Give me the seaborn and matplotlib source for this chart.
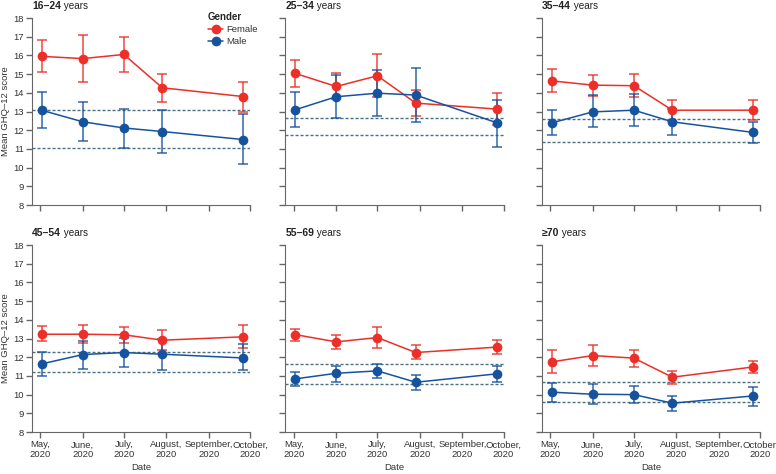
import numpy as np
import pandas as pd
import seaborn as sns
import matplotlib.pyplot as plt

# Data
ages = ['16–24', '25–34', '35–44', '45–54', '55–69', '≥70']
wave_dates = pd.to_datetime(['2020-05-02', '2020-06-01', '2020-07-01', '2020-07-29', '2020-09-26'])
tick_dates = pd.date_range('2020-05-01', '2020-10-01', freq='MS')
tick_labels = ['May,\n2020', 'June,\n2020', 'July,\n2020', 'August,\n2020', 'September,\n2020', 'October,\n2020']

female_mean = [[15.95, 15.83, 16.05, 14.27, 13.80],
               [15.04, 14.34, 14.91, 13.45, 13.13],
               [14.64, 14.41, 14.38, 13.07, 13.07],
               [13.23, 13.23, 13.20, 12.91, 13.09],
               [13.21, 12.82, 13.05, 12.25, 12.54],
               [11.75, 12.09, 11.95, 10.93, 11.48]]
female_lo = [[15.10, 14.60, 15.12, 13.50, 13.00],
             [14.30, 13.66, 13.77, 12.77, 12.30],
             [14.05, 13.82, 13.77, 12.48, 12.52],
             [12.84, 12.77, 12.77, 12.41, 12.48],
             [12.88, 12.43, 12.48, 11.88, 12.18],
             [11.13, 11.52, 11.50, 10.55, 11.13]]
female_hi = [[16.83, 17.10, 17.00, 15.03, 14.60],
             [15.77, 15.05, 16.09, 14.13, 13.99],
             [15.27, 14.93, 15.00, 13.64, 13.63],
             [13.66, 13.73, 13.63, 13.43, 13.73],
             [13.52, 13.20, 13.63, 12.63, 12.91],
             [12.36, 12.64, 12.38, 11.27, 11.82]]

male_mean = [[13.07, 12.45, 12.12, 11.93, 11.50],
             [13.09, 13.79, 13.98, 13.88, 12.40],
             [12.39, 12.98, 13.07, 12.45, 11.88],
             [11.64, 12.14, 12.25, 12.16, 11.96],
             [10.84, 11.14, 11.27, 10.66, 11.11],
             [10.13, 10.02, 10.00, 9.54, 9.93]]
male_lo = [[12.10, 11.40, 11.07, 10.78, 10.20],
           [12.18, 12.64, 12.75, 12.46, 11.12],
           [11.75, 12.16, 12.21, 11.77, 11.29],
           [11.00, 11.38, 11.50, 11.30, 11.30],
           [10.46, 10.70, 10.89, 10.23, 10.66],
           [9.63, 9.50, 9.54, 9.13, 9.39]]
male_hi = [[14.03, 13.50, 13.15, 13.08, 12.85],
           [14.02, 14.93, 15.21, 15.32, 13.62],
           [13.07, 13.89, 13.91, 13.16, 12.45],
           [12.27, 12.89, 13.05, 13.00, 12.68],
           [11.21, 11.55, 11.64, 11.07, 11.55],
           [10.61, 10.57, 10.46, 9.93, 10.43]]

# dashed reference lines per age group
ref_upper = [13.08, 12.64, 12.61, 12.29, 11.62, 10.66]
ref_lower = [11.03, 11.75, 11.36, 11.21, 10.55, 9.59]

# long table for seaborn
rows = []
for i, age in enumerate(ages):
    for g, m, lo, hi in [('Female', female_mean, female_lo, female_hi),
                         ('Male', male_mean, male_lo, male_hi)]:
        for j, d in enumerate(wave_dates):
            rows.append({'age': age, 'gender': g, 'date': d,
                         'mean': m[i][j], 'lo': lo[i][j], 'hi': hi[i][j]})
df = pd.DataFrame(rows)

sns.set_style('ticks')
plt.rcParams['font.family'] = ['Liberation Sans Narrow', 'Liberation Sans', 'DejaVu Sans']
plt.rcParams['axes.edgecolor'] = '#666666'
plt.rcParams['xtick.color'] = '#666666'
plt.rcParams['ytick.color'] = '#666666'
plt.rcParams['xtick.labelcolor'] = '#333333'
plt.rcParams['ytick.labelcolor'] = '#333333'

palette = {'Female': '#ec2f29', 'Male': '#16539f'}
fs = 6.8

fig = plt.figure(figsize=(7.76, 4.74), dpi=100)
lefts = [0.0412, 0.3679, 0.6985]
bottoms = [0.5675, 0.0886]
w, h = 0.281, 0.3945

for i, age in enumerate(ages):
    r, c = divmod(i, 3)
    ax = fig.add_axes([lefts[c], bottoms[r], w, h])
    sub = df[df['age'] == age]

    ax.axhline(ref_upper[i], color='#4f6f7d', lw=1, ls=(0, (2.2, 1.4)), zorder=1)
    ax.axhline(ref_lower[i], color='#4f6f7d', lw=1, ls=(0, (2.2, 1.4)), zorder=1)

    for g in ['Female', 'Male']:
        s = sub[sub['gender'] == g]
        ax.errorbar(s['date'], s['mean'], yerr=[s['mean'] - s['lo'], s['hi'] - s['mean']],
                    fmt='none', ecolor=palette[g], alpha=0.75, elinewidth=1.3,
                    capsize=3.5, capthick=1.3, zorder=2)

    sns.lineplot(data=sub, x='date', y='mean', hue='gender', hue_order=['Female', 'Male'],
                 palette=palette, marker='o', markersize=7, markeredgewidth=0,
                 lw=1.1, errorbar=None, legend=(i == 0), ax=ax, zorder=3)

    ax.set_ylim(8, 18)
    ax.set_yticks(range(8, 19))
    ax.set_xlim(pd.Timestamp('2020-04-25'), pd.Timestamp('2020-10-01'))
    ax.set_xticks(tick_dates)
    ax.tick_params(length=4, width=1, labelsize=fs, pad=2)
    sns.despine(ax=ax)

    if c == 0:
        ax.set_ylabel('Mean GHQ–12 score', fontsize=fs, color='#333333', labelpad=2)
    else:
        ax.set_ylabel('')
        ax.set_yticklabels([])
    if r == 1:
        ax.set_xticklabels(tick_labels, linespacing=1.1)
        ax.set_xlabel('Date', fontsize=fs, color='#333333', labelpad=3)
    else:
        ax.set_xticklabels([])
        ax.set_xlabel('')

    t1 = ax.text(0, 1.035, age, transform=ax.transAxes, fontsize=7.5, fontweight='bold',
                 color='#222222', ha='left', va='bottom')
    ax.annotate(' years', xy=(1, 0), xycoords=t1, fontsize=7.2, color='#222222',
                ha='left', va='bottom')

    if i == 0:
        handles, labels = ax.get_legend_handles_labels()
        leg = ax.legend(handles, labels, title='Gender', loc='upper left',
                        bbox_to_anchor=(0.79, 1.055), frameon=False, fontsize=fs,
                        title_fontproperties={'weight': 'bold', 'size': 7},
                        handlelength=1.6, handletextpad=0.3, labelspacing=0.35,
                        borderaxespad=0, alignment='left')
        for t in leg.get_texts():
            t.set_color('#333333')

fig.savefig('out.png', dpi=100)
